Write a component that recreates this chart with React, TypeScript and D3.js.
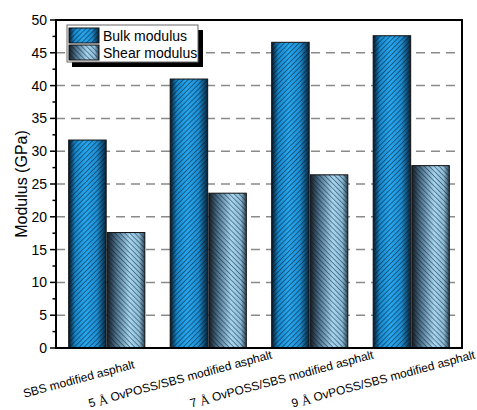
import React from "react";
import * as d3 from "d3";

const categories = [
  "SBS modified asphalt",
  "5 Å OvPOSS/SBS modified asphalt",
  "7 Å OvPOSS/SBS modified asphalt",
  "9 Å OvPOSS/SBS modified asphalt",
];
const seriesNames = ["Bulk modulus", "Shear modulus"];
const bulkValues = [31.7, 41.0, 46.6, 47.6];
const shearValues = [17.6, 23.6, 26.4, 27.8];
const yTicks = [0, 5, 10, 15, 20, 25, 30, 35, 40, 45, 50];

const W = 477;
const H = 410;
const left = 56;
const right = 462;
const top = 20;
const bottom = 348;

export default function App() {
  const x = d3
    .scaleBand<string>()
    .domain(categories)
    .range([left, right])
    .paddingInner(0.25)
    .paddingOuter(0.125);
  const xs = d3
    .scaleBand<string>()
    .domain(seriesNames)
    .range([0, x.bandwidth()])
    .paddingInner(0.03);
  const y = d3.scaleLinear().domain([0, 50]).range([bottom, top]);
  const minor = d3.range(2.5, 50, 5);
  const series = [bulkValues, shearValues];
  const fills = ["url(#bulkFill)", "url(#shearFill)"];
  const hatches = ["url(#hatchA)", "url(#hatchB)"];
  const font = "Arial, 'Liberation Sans', sans-serif";
  const serif = "'Times New Roman', 'Liberation Serif', serif";

  const renderLabel = (c: string) => {
    const idx = c.indexOf("Å");
    if (idx < 0) return c;
    return (
      <>
        {c.slice(0, idx)}
        <tspan fontFamily={serif} fontSize={13}>Å</tspan>
        {c.slice(idx + 1)}
      </>
    );
  };

  return (
    <svg
      width={W}
      height={H}
      style={{ position: "absolute", left: 0, top: 0, background: "#fff" }}
    >
      <defs>
        <linearGradient id="bulkFill" x1="0" x2="1" y1="0" y2="0">
          <stop offset="0" stopColor="#06182a" />
          <stop offset="0.18" stopColor="#1788cc" />
          <stop offset="0.45" stopColor="#27a6ee" />
          <stop offset="0.75" stopColor="#1d8fd4" />
          <stop offset="1" stopColor="#08263d" />
        </linearGradient>
        <linearGradient id="shearFill" x1="0" x2="1" y1="0" y2="0">
          <stop offset="0" stopColor="#141c24" />
          <stop offset="0.25" stopColor="#4f7590" />
          <stop offset="0.6" stopColor="#a6d6f2" />
          <stop offset="0.85" stopColor="#8cbcd8" />
          <stop offset="1" stopColor="#2d4454" />
        </linearGradient>
        <pattern
          id="hatchA"
          width="3.5"
          height="3.5"
          patternUnits="userSpaceOnUse"
          patternTransform="rotate(45)"
        >
          <line x1="0" y1="0" x2="0" y2="3.5" stroke="#041420" strokeWidth="1.2" strokeOpacity="0.8" />
        </pattern>
        <pattern
          id="hatchB"
          width="3.5"
          height="3.5"
          patternUnits="userSpaceOnUse"
          patternTransform="rotate(-45)"
        >
          <line x1="0" y1="0" x2="0" y2="3.5" stroke="#0a1620" strokeWidth="1.2" strokeOpacity="0.75" />
        </pattern>
      </defs>

      {/* gridlines */}
      {yTicks
        .filter((t) => t > 0 && t < 50)
        .map((t) => (
          <line
            key={"g" + t}
            x1={left}
            x2={right}
            y1={y(t)}
            y2={y(t)}
            stroke="#8a8a8a"
            strokeWidth={1.5}
            strokeDasharray="9,6"
          />
        ))}

      {/* bars */}
      {categories.map((c, i) => (
        <g key={c}>
          {series.map((vals, s) => {
            const bx = (x(c) as number) + (xs(seriesNames[s]) as number);
            const bw = xs.bandwidth();
            const by = y(vals[i]);
            const bh = y(0) - by;
            return (
              <g key={s}>
                <rect x={bx} y={by} width={bw} height={bh} fill={fills[s]} />
                <rect x={bx} y={by} width={bw} height={bh} fill={hatches[s]} />
                <rect
                  x={bx}
                  y={by}
                  width={bw}
                  height={bh}
                  fill="none"
                  stroke="#111"
                  strokeWidth={1}
                />
              </g>
            );
          })}
        </g>
      ))}

      {/* frame */}
      <line x1={left} x2={right + 1} y1={top} y2={top} stroke="#000" strokeWidth={2} />
      <line x1={right} x2={right} y1={top} y2={bottom} stroke="#000" strokeWidth={2} />
      <line x1={left - 1} x2={right + 1} y1={bottom} y2={bottom} stroke="#000" strokeWidth={2} />
      <line x1={left} x2={left} y1={top - 1} y2={bottom + 1} stroke="#000" strokeWidth={2} />

      {/* y ticks */}
      {yTicks.map((t) => (
        <g key={"t" + t}>
          <line x1={left - 6} x2={left} y1={y(t)} y2={y(t)} stroke="#000" strokeWidth={1.5} />
          <text
            x={left - 9}
            y={y(t)}
            textAnchor="end"
            dominantBaseline="central"
            fontFamily={font}
            fontSize={14}
            fill="#000"
          >
            {t}
          </text>
        </g>
      ))}
      {minor.map((t) => (
        <line key={"m" + t} x1={left - 3.5} x2={left} y1={y(t)} y2={y(t)} stroke="#000" strokeWidth={1.5} />
      ))}

      {/* y title */}
      <text
        transform={`translate(21,${(top + bottom) / 2}) rotate(-90)`}
        textAnchor="middle"
        dominantBaseline="central"
        fontFamily={font}
        fontSize={16}
        fill="#000"
      >
        Modulus (GPa)
      </text>

      {/* x labels */}
      {categories.map((c) => {
        const cx = (x(c) as number) + x.bandwidth() / 2 - 28;
        return (
          <text
            key={"l" + c}
            transform={`translate(${cx},379) rotate(-15)`}
            textAnchor="middle"
            dominantBaseline="central"
            fontFamily={font}
            fontSize={12}
            fill="#000"
          >
            {renderLabel(c)}
          </text>
        );
      })}

      {/* legend */}
      <rect x={72} y={30} width={131} height={37} fill="#000" />
      <rect x={67} y={25} width={131} height={37} fill="#fff" stroke="#666" strokeWidth={1} />
      {seriesNames.map((n, s) => (
        <g key={n}>
          <rect x={69} y={28 + s * 17} width={30} height={15} fill={fills[s]} />
          <rect x={69} y={28 + s * 17} width={30} height={15} fill={hatches[s]} />
          <rect x={69} y={28 + s * 17} width={30} height={15} fill="none" stroke="#111" strokeWidth={1} />
          <text
            x={103}
            y={36 + s * 17}
            dominantBaseline="central"
            fontFamily={font}
            fontSize={14}
            fill="#000"
          >
            {n}
          </text>
        </g>
      ))}
    </svg>
  );
}
